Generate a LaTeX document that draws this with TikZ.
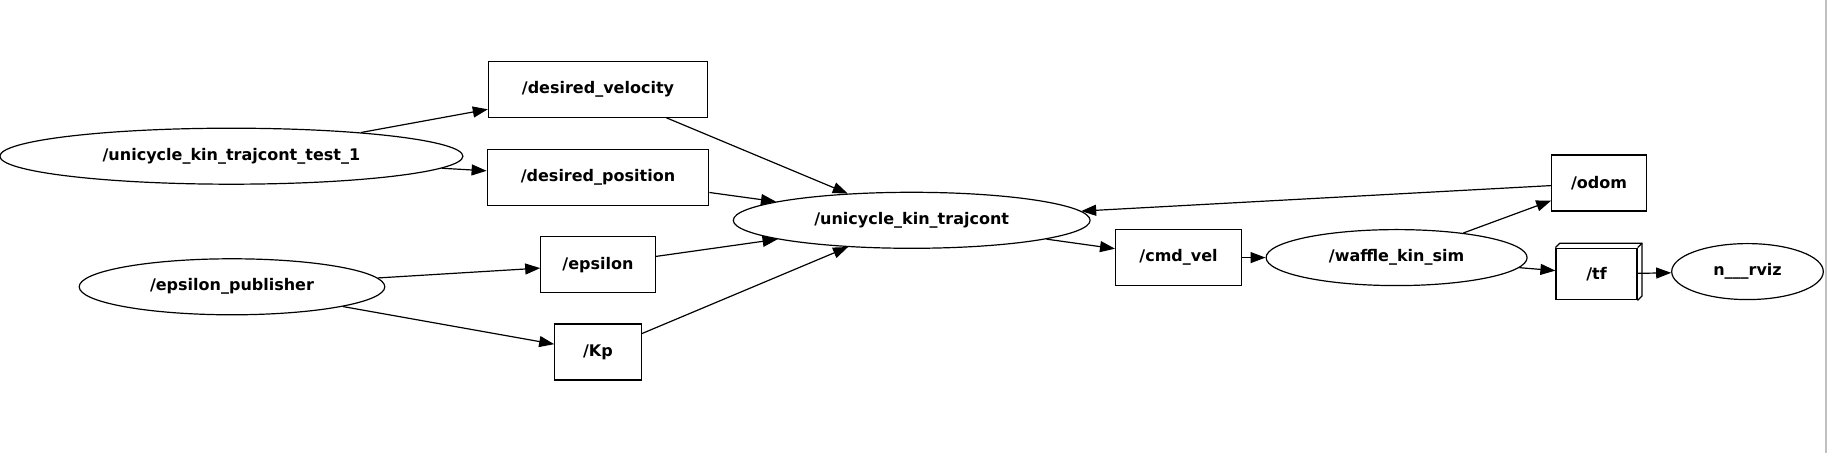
\documentclass[tikz,border=0pt]{standalone}
\usepackage{fontspec}
\setmainfont{DejaVu Sans}
\usetikzlibrary{arrows.meta,shapes.geometric}

\begin{document}
\begin{tikzpicture}[
  x=0.5pt, y=-0.5pt,
  font=\fontsize{8}{9}\selectfont\bfseries,
  nd/.style={ellipse, draw=black, line width=0.6pt, inner sep=0pt,
             minimum height=28pt},
  tp/.style={rectangle, draw=black, line width=0.6pt, inner sep=0pt,
             minimum height=28pt},
  a/.style={-{Triangle[length=7.5pt, width=5.5pt]}, line width=0.6pt}
]
\useasboundingbox (0,0) rectangle (1828,453);

% ---------------- publishers ----------------
\node[nd, minimum width=231.5pt] (test) at (231.4,156.2) {/unicycle\_kin\_trajcont\_test\_1};
\node[nd, minimum width=152.8pt] (epspub) at (232,286.8) {/epsilon\_publisher};

% ---------------- topics in ----------------
\node[tp, minimum width=109.6pt] (dvel) at (598,89.2) {/desired\_velocity};
\node[tp, minimum width=110.8pt] (dpos) at (598,177.2) {/desired\_position};
\node[tp, minimum width=57.2pt] (eps) at (598,264.6) {/epsilon};
\node[tp, minimum width=43.2pt] (kp) at (598,352) {/Kp};

% ---------------- controller and simulator ----------------
\node[nd, minimum width=178.4pt] (ctrl) at (911.7,220.3) {/unicycle\_kin\_trajcont};
\node[tp, minimum width=63pt] (cmd) at (1178.6,257.6) {/cmd\_vel};
\node[nd, minimum width=130.5pt] (sim) at (1396.6,257.6) {/waffle\_kin\_sim};
\node[tp, minimum width=47.2pt] (odom) at (1599,183) {/odom};
\node[tp, minimum width=40.5pt, minimum height=25.8pt] (tf) at (1596.5,274) {/tf};
\draw[line width=0.6pt] (tf.north west) -- ++(2.2pt,2.2pt) -| ([shift={(2.2pt,2.2pt)}]tf.south east)
  -- (tf.south east);
\draw[line width=0.6pt] (tf.north east) -- ++(2.2pt,2.2pt);
\node[nd, minimum width=75.8pt] (rviz) at (1747.5,271.6) {n\_\_\_rviz};

% right border
\draw[black!25, line width=0.6pt] (1826,0) -- (1826,453);

% ---------------- arrows ----------------
\draw[a] (test) -- (dvel);
\draw[a] (test) -- (dpos);
\draw[a] (epspub) -- (eps);
\draw[a] (epspub) -- (kp);
\draw[a] (dvel) -- (ctrl);
\draw[a] (dpos) -- (ctrl);
\draw[a] (eps) -- (ctrl);
\draw[a] (kp) -- (ctrl);
\draw[a] (odom) -- (ctrl);
\draw[a] (ctrl) -- (cmd);
\draw[a] (cmd) -- (sim);
\draw[a] (sim) -- (odom);
\draw[a] (sim) -- (tf);
\draw[a] (tf) -- (rviz);
\end{tikzpicture}
\end{document}
